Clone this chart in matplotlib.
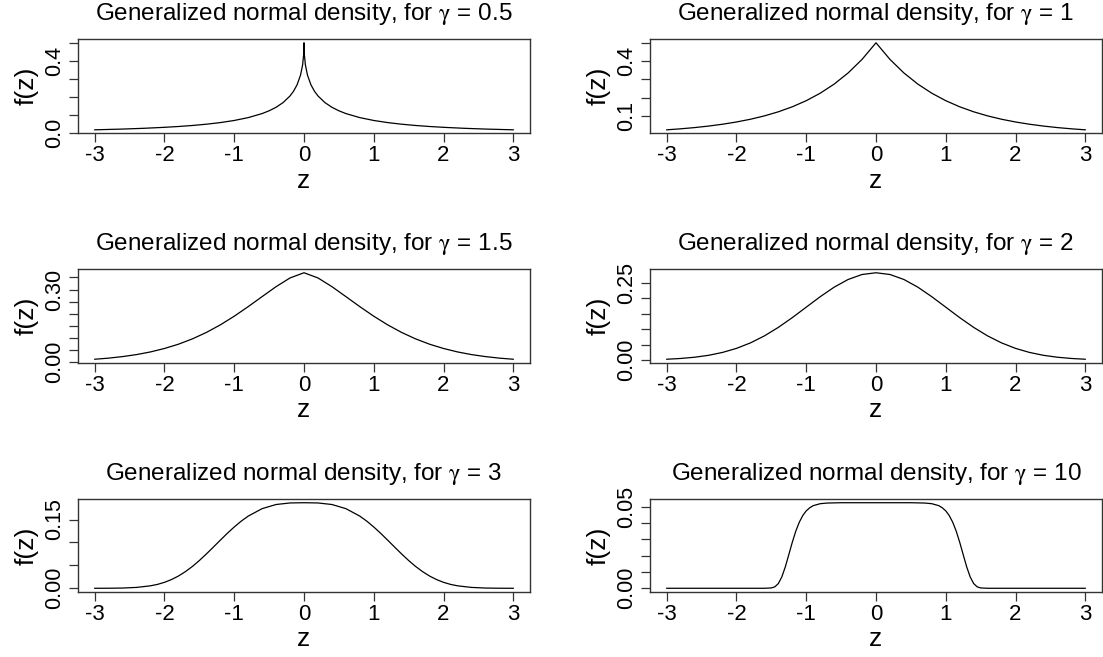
import matplotlib
matplotlib.use("Agg")
import matplotlib.pyplot as plt

plt.rcParams['font.family'] = ['Liberation Sans', 'DejaVu Sans']
plt.rcParams['axes.unicode_minus'] = False
plt.rcParams['mathtext.fontset'] = 'stix'

# ---------------- data ----------------
gammas = ["0.5", "1", "1.5", "2", "3", "10"]

z_g05 = [-3.0, -2.6, -2.3, -2.0, -1.8, -1.6, -1.4, -1.2, -1.0, -0.8, -0.6, -0.5, -0.4, -0.3,
         -0.2, -0.15, -0.1, -0.05, -0.02, -0.005, -0.001, 0.0,
         0.001, 0.005, 0.02, 0.05, 0.1, 0.15, 0.2, 0.3, 0.4, 0.5, 0.6, 0.8, 1.0, 1.2, 1.4,
         1.6, 1.8, 2.0, 2.3, 2.6, 3.0]
f_g05 = [0.0157, 0.0199, 0.0241, 0.0296, 0.0342, 0.0398, 0.0469, 0.0559, 0.0677, 0.0836,
         0.1062, 0.1216, 0.1411, 0.1672, 0.2044, 0.2304, 0.2657, 0.3197, 0.3768, 0.4341,
         0.4694, 0.5000,
         0.4694, 0.4341, 0.3768, 0.3197, 0.2657, 0.2304, 0.2044, 0.1672, 0.1411, 0.1216,
         0.1062, 0.0836, 0.0677, 0.0559, 0.0469, 0.0398, 0.0342, 0.0296, 0.0241, 0.0199,
         0.0157]

z_grid = [-3.0, -2.8, -2.6, -2.4, -2.2, -2.0, -1.8, -1.6, -1.4, -1.2, -1.0, -0.8, -0.6,
          -0.4, -0.2, 0.0, 0.2, 0.4, 0.6, 0.8, 1.0, 1.2, 1.4, 1.6, 1.8, 2.0, 2.2, 2.4,
          2.6, 2.8, 3.0]

f_g1 = [0.0249, 0.0304, 0.0371, 0.0454, 0.0554, 0.0677, 0.0826, 0.1009, 0.1233, 0.1506,
        0.1839, 0.2247, 0.2744, 0.3352, 0.4094, 0.5000, 0.4094, 0.3352, 0.2744, 0.2247,
        0.1839, 0.1506, 0.1233, 0.1009, 0.0826, 0.0677, 0.0554, 0.0454, 0.0371, 0.0304,
        0.0249]

f_g15 = [0.0116, 0.0162, 0.0226, 0.0309, 0.0419, 0.0561, 0.0738, 0.0958, 0.1224, 0.1537,
         0.1896, 0.2292, 0.2708, 0.3119, 0.3479, 0.3693, 0.3479, 0.3119, 0.2708, 0.2292,
         0.1896, 0.1537, 0.1224, 0.0958, 0.0738, 0.0561, 0.0419, 0.0309, 0.0226, 0.0162,
         0.0116]

f_g2 = [0.0031, 0.0056, 0.0096, 0.0158, 0.0251, 0.0382, 0.0558, 0.0784, 0.1059, 0.1373,
        0.1711, 0.2048, 0.2356, 0.2604, 0.2765, 0.2821, 0.2765, 0.2604, 0.2356, 0.2048,
        0.1711, 0.1373, 0.1059, 0.0784, 0.0558, 0.0382, 0.0251, 0.0158, 0.0096, 0.0056,
        0.0031]

z_g3 = [-3.0, -2.8, -2.6, -2.4, -2.2, -2.1, -2.0, -1.9, -1.8, -1.7, -1.6, -1.5, -1.4, -1.3,
        -1.2, -1.1, -1.0, -0.9, -0.8, -0.6, -0.4, -0.2, 0.0, 0.2, 0.4, 0.6, 0.8, 0.9, 1.0,
        1.1, 1.2, 1.3, 1.4, 1.5, 1.6, 1.7, 1.8, 1.9, 2.0, 2.1, 2.2, 2.4, 2.6, 2.8, 3.0]
f_g3 = [0.0000, 0.0001, 0.0005, 0.0019, 0.0054, 0.0085, 0.0130, 0.0190, 0.0267, 0.0363,
        0.0476, 0.0606, 0.0748, 0.0897, 0.1049, 0.1198, 0.1337, 0.1464, 0.1574, 0.1737,
        0.1827, 0.1861, 0.1866, 0.1861, 0.1827, 0.1737, 0.1574, 0.1464, 0.1337, 0.1198,
        0.1049, 0.0897, 0.0748, 0.0606, 0.0476, 0.0363, 0.0267, 0.0190, 0.0130, 0.0085,
        0.0054, 0.0019, 0.0005, 0.0001, 0.0000]

z_g10 = [-3.0, -2.0, -1.6, -1.5, -1.45, -1.4, -1.35, -1.3, -1.25, -1.2, -1.15, -1.1, -1.05,
         -1.0, -0.95, -0.9, -0.8, -0.7, -0.5, 0.0, 0.5, 0.7, 0.8, 0.9, 0.95, 1.0, 1.05, 1.1,
         1.15, 1.2, 1.25, 1.3, 1.35, 1.4, 1.45, 1.5, 1.6, 2.0, 3.0]
f_g10 = [0.0, 0.0, 0.0000, 0.0002, 0.0009, 0.0029, 0.0070, 0.0132, 0.0207, 0.0283, 0.0351,
         0.0406, 0.0447, 0.0476, 0.0495, 0.0508, 0.0520, 0.0524, 0.0526, 0.0526, 0.0526,
         0.0524, 0.0520, 0.0508, 0.0495, 0.0476, 0.0447, 0.0406, 0.0351, 0.0283, 0.0207,
         0.0132, 0.0070, 0.0029, 0.0009, 0.0002, 0.0000, 0.0, 0.0]

x_ticks = [-3, -2, -1, 0, 1, 2, 3]
x_ticklabels = ["-3", "-2", "-1", "0", "1", "2", "3"]

yt_g05 = [0.0, 0.1, 0.2, 0.3, 0.4, 0.5]
yl_g05 = ["0.0", "", "", "", "0.4", ""]
yt_g1 = [0.1, 0.2, 0.3, 0.4, 0.5]
yl_g1 = ["0.1", "", "", "0.4", ""]
yt_g15 = [0.0, 0.05, 0.10, 0.15, 0.20, 0.25, 0.30, 0.35]
yl_g15 = ["0.00", "", "", "", "", "", "0.30", ""]
yt_g2 = [0.0, 0.05, 0.10, 0.15, 0.20, 0.25]
yl_g2 = ["0.00", "", "", "", "", "0.25"]
yt_g3 = [0.0, 0.05, 0.10, 0.15]
yl_g3 = ["0.00", "", "", "0.15"]
yt_g10 = [0.0, 0.01, 0.02, 0.03, 0.04, 0.05]
yl_g10 = ["0.00", "", "", "", "", "0.05"]

panels = [
    (z_g05, f_g05, yt_g05, yl_g05),
    (z_grid, f_g1, yt_g1, yl_g1),
    (z_grid, f_g15, yt_g15, yl_g15),
    (z_grid, f_g2, yt_g2, yl_g2),
    (z_g3, f_g3, yt_g3, yl_g3),
    (z_g10, f_g10, yt_g10, yl_g10),
]

# ---------------- layout ----------------
W, H = 1103, 657
fig = plt.figure(figsize=(W / 100, H / 100), dpi=100)

lefts = [78, 650]
box_w = 452
rows = [(39.3, 133.3), (269.3, 362.7), (499.3, 591.7)]

for i, (z, f, yt, yl) in enumerate(panels):
    r, c = divmod(i, 2)
    top, bot = rows[r]
    ax = fig.add_axes([lefts[c] / W, 1 - bot / H, box_w / W, (bot - top) / H])
    ax.plot(z, f, color="black", lw=0.9)
    ax.margins(x=0.04, y=0.04)
    ax.set_xticks(x_ticks)
    ax.set_xticklabels(x_ticklabels)
    ax.set_yticks(yt)
    ax.set_yticklabels(yl, rotation=90, va="center")
    for s in ax.spines.values():
        s.set_color("#333333")
        s.set_linewidth(1.0)
    ax.tick_params(direction="out", length=6.5, width=0.9, color="#333333",
                   labelsize=16, pad=2)
    ax.tick_params(axis="y", labelsize=15.5, pad=3)
    ax.set_title("Generalized normal density, for $\\mathrm{\\gamma}$ = " + gammas[i],
                 fontsize=17.5, pad=14)
    ax.set_xlabel("z", fontsize=19, labelpad=2)
    ax.set_ylabel("f(z)", fontsize=19, labelpad=4)

fig.savefig("out.png", dpi=100)
